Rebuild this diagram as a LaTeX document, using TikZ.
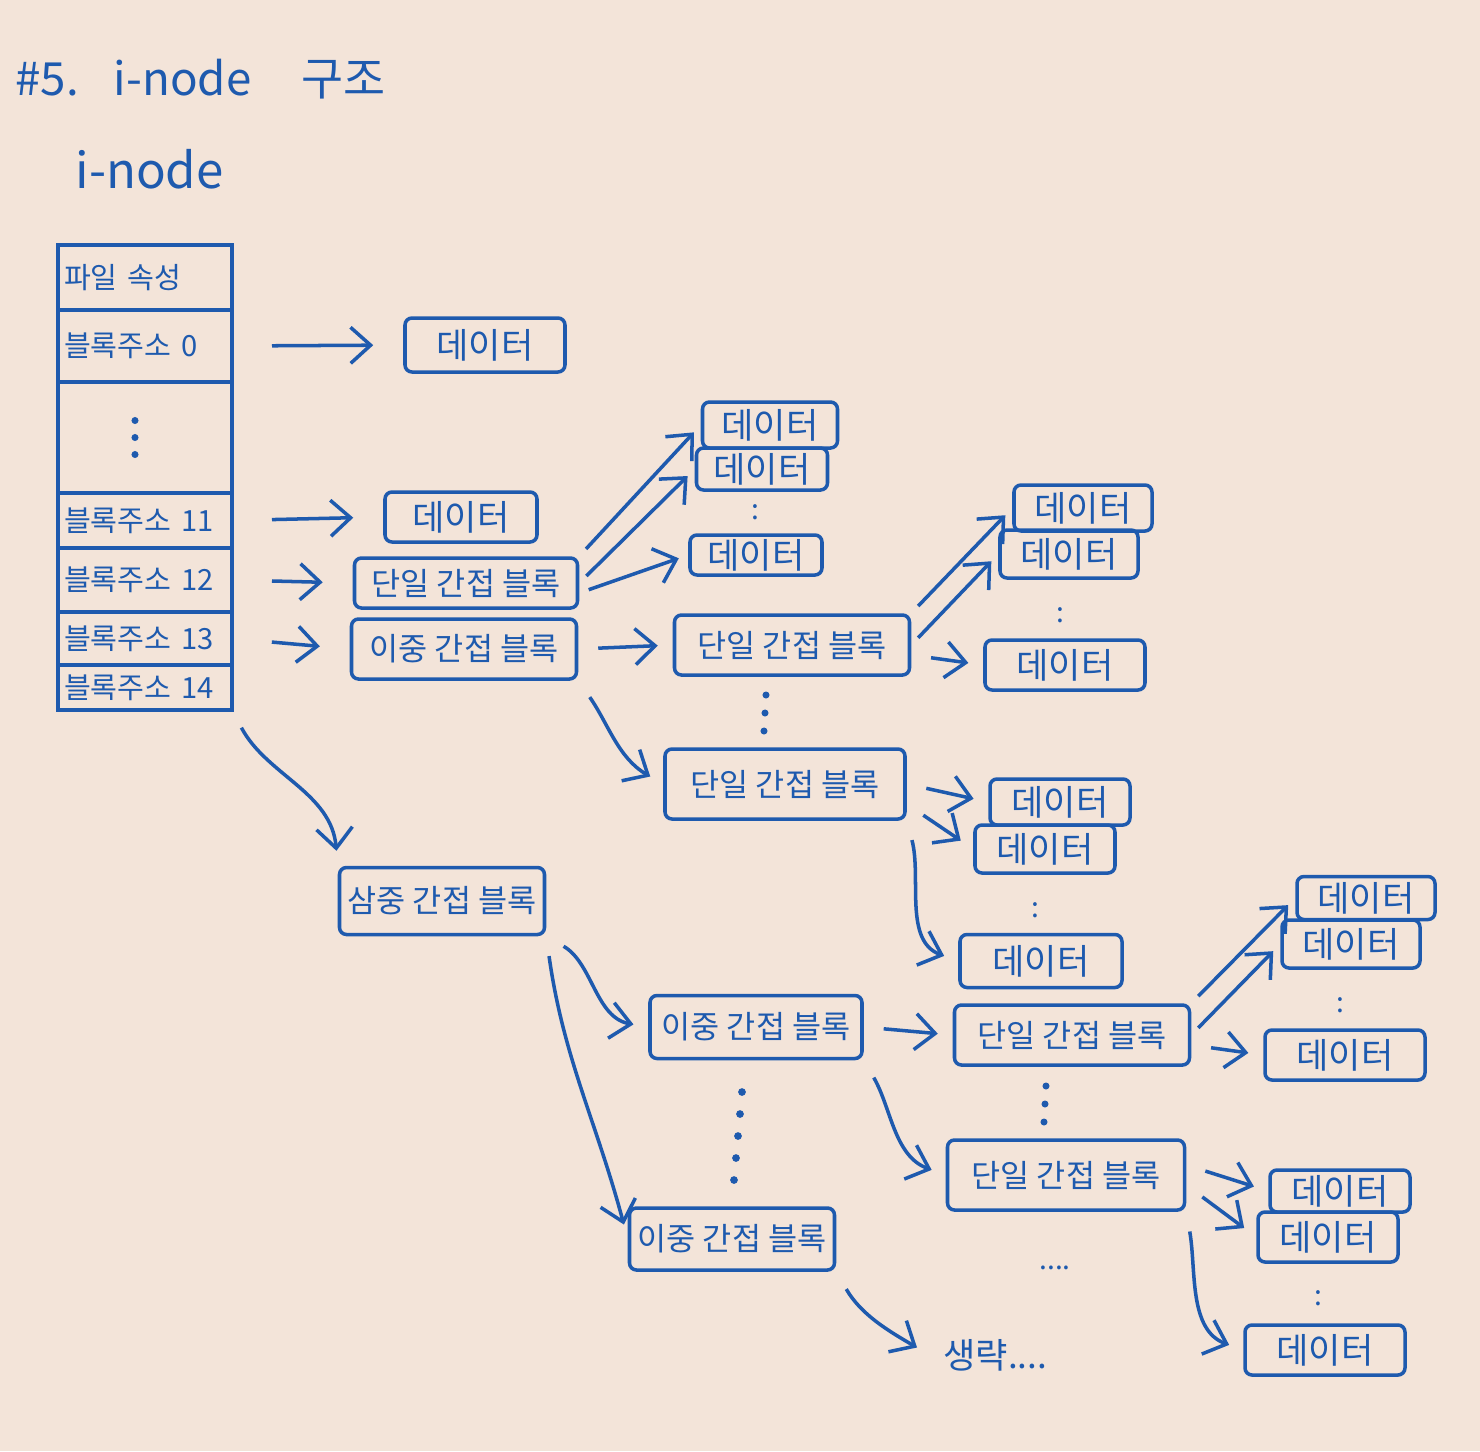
\documentclass[tikz,border=0pt]{standalone}
\usepackage{fontspec}
\setmainfont{Noto Sans CJK KR}
\usetikzlibrary{arrows.meta,positioning}
\definecolor{pen}{HTML}{1E5AAE}
\definecolor{paper}{HTML}{F3E4D9}

\begin{document}
\begin{tikzpicture}[
    color=pen, line width=1pt,
    cell/.style={draw, outer sep=0pt, minimum width=1.74cm, text width=1.62cm, inner xsep=0.06cm, inner ysep=0pt, align=left, font=\fontsize{8.3}{10}\selectfont},
    data/.style={draw, rounded corners=2pt, minimum width=1.38cm, minimum height=0.46cm, inner sep=1pt, font=\fontsize{10}{12}\selectfont},
    blk/.style={draw, rounded corners=2pt, minimum width=2.35cm, minimum height=0.6cm, inner sep=1pt, font=\fontsize{9}{11}\selectfont},
    arr/.style={-{Straight Barb[length=2mm,width=3.6mm]}, shorten <=2mm, shorten >=1.5mm},
    ptr/.style={arr, shorten <=4mm, shorten >=3mm},
    fan/.style={arr, shorten <=1mm, shorten >=1mm},
    dots/.style={inner sep=0pt, font=\fontsize{8}{8}\selectfont}
]
\fill[paper] (0,0) rectangle (14.8,-14.51);
\useasboundingbox (0,0) rectangle (14.8,-14.51);

% titles
\node[anchor=base west, font=\fontsize{13}{15}\selectfont] (title) at (0.02,-0.95) {\#5.\hspace{0.35cm}i-node\hspace{0.5cm}구조};
\node[anchor=base west, font=\fontsize{14}{16}\selectfont] (inode) at (0.62,-1.88) {i-node};

% i-node table
\node[cell, minimum height=0.65cm] (attr) at (1.45,-2.775) {파일 속성};
\node[cell, minimum height=0.72cm, below=0pt of attr] (b0) {블록주소 0};
\node[cell, minimum height=1.11cm, below=0pt of b0] (mid) {};
\node[cell, minimum height=0.55cm, below=0pt of mid] (b11) {블록주소 11};
\node[cell, minimum height=0.64cm, below=0pt of b11] (b12) {블록주소 12};
\node[cell, minimum height=0.53cm, below=0pt of b12] (b13) {블록주소 13};
\node[cell, minimum height=0.45cm, below=0pt of b13] (b14) {블록주소 14};
\foreach \i in {-1,0,1}
    \fill ([xshift=-0.1cm,yshift=\i*0.17cm]mid.center) circle (1pt);

% direct blocks
\node[data, minimum width=1.6cm, minimum height=0.54cm] (d0) at (4.85,-3.45) {데이터};
\node[data, minimum width=1.52cm, minimum height=0.5cm] (d11) at (4.61,-5.17) {데이터};

% single / double / triple
\node[blk, minimum width=2.23cm, minimum height=0.5cm] (s1) at (4.66,-5.83) {단일 간접 블록};
\node[blk, minimum width=2.25cm] (db1) at (4.64,-6.49) {이중 간접 블록};
\node[blk, minimum width=2.05cm, minimum height=0.67cm] (t) at (4.42,-9.01) {삼중 간접 블록};

% data of s1
\node[data, minimum width=1.35cm] (da1) at (7.70,-4.25) {데이터};
\node[data, minimum width=1.31cm, minimum height=0.42cm] (da2) at (7.62,-4.69) {데이터};
\node[dots] (da-dots) at (7.55,-5.12) {:};
\node[data, minimum width=1.32cm, minimum height=0.4cm] (da3) at (7.56,-5.55) {데이터};

% single blocks of db1
\node[blk] (s2) at (7.92,-6.45) {단일 간접 블록};
\foreach \i in {0,1,2}
    \fill (7.66-\i*0.01,-6.95-\i*0.18) circle (1pt);
\node[blk, minimum width=2.4cm, minimum height=0.7cm] (s3) at (7.85,-7.84) {단일 간접 블록};

\node[data] (ea1) at (10.83,-5.08) {데이터};
\node[data, minimum height=0.48cm] (ea2) at (10.69,-5.54) {데이터};
\node[dots] (ea-dots) at (10.6,-6.15) {:};
\node[data, minimum width=1.6cm, minimum height=0.5cm] (ea3) at (10.65,-6.65) {데이터};

\node[data, minimum width=1.4cm] (fa1) at (10.6,-8.02) {데이터};
\node[data, minimum width=1.4cm, minimum height=0.48cm] (fa2) at (10.45,-8.49) {데이터};
\node[dots] (fa-dots) at (10.35,-9.1) {:};
\node[data, minimum width=1.62cm, minimum height=0.53cm] (fa3) at (10.41,-9.61) {데이터};

% double blocks of t
\node[blk, minimum width=2.12cm, minimum height=0.63cm] (db2) at (7.56,-10.27) {이중 간접 블록};
\foreach \i in {0,...,4}
    \fill (7.42-\i*0.02,-10.92-\i*0.22) circle (1.1pt);
\node[blk, minimum width=2.05cm, minimum height=0.62cm] (db3) at (7.32,-12.39) {이중 간접 블록};

\node[blk] (s4) at (10.72,-10.35) {단일 간접 블록};
\foreach \i in {0,1,2}
    \fill (10.46-\i*0.01,-10.86-\i*0.18) circle (1pt);
\node[blk, minimum width=2.37cm, minimum height=0.7cm] (s5) at (10.66,-11.75) {단일 간접 블록};
\node[dots] (s5-dots) at (10.55,-12.68) {....};

\node[data, minimum height=0.43cm] (ga1) at (13.66,-8.98) {데이터};
\node[data, minimum height=0.48cm] (ga2) at (13.51,-9.44) {데이터};
\node[dots] (ga-dots) at (13.4,-10.05) {:};
\node[data, minimum width=1.6cm, minimum height=0.5cm] (ga3) at (13.45,-10.55) {데이터};

\node[data, minimum width=1.4cm, minimum height=0.42cm] (ha1) at (13.4,-11.91) {데이터};
\node[data, minimum width=1.4cm, minimum height=0.5cm] (ha2) at (13.28,-12.37) {데이터};
\node[dots] (ha-dots) at (13.18,-12.98) {:};
\node[data, minimum width=1.6cm, minimum height=0.5cm] (ha3) at (13.25,-13.5) {데이터};

\node[anchor=west, font=\fontsize{10}{12}\selectfont] (skip) at (9.3,-13.55) {생략....};

% pointers
\draw[ptr] (b0.east) -- (d0.west);
\draw[ptr] (b11.east) -- (d11.west);
\draw[ptr] (b12.east) -- (s1.west);
\draw[ptr] (b13.east) -- (db1.west);
\draw[arr] (b14.south east) to[out=-62,in=95] (t.north west);

\draw[fan] (s1.north east) -- (da1.west);
\draw[fan] (s1.east) -- (da2.west);
\draw[fan] ([yshift=-1mm]s1.east) -- (da3.west);

\draw[arr] (db1.east) -- (s2.west);
\draw[arr] (db1.south east) to[out=-55,in=150] (s3.west);

\draw[fan] (s2.north east) -- (ea1.west);
\draw[fan] (s2.east) -- (ea2.west);
\draw[arr] ([yshift=-1mm]s2.east) -- (ea3.west);

\draw[arr] (s3.east) -- (fa1.west);
\draw[arr] ([yshift=-2mm]s3.east) -- (fa2.west);
\draw[arr] (s3.south east) to[out=-75,in=160] (fa3.west);

\draw[arr] (t.south east) to[out=-30,in=170] (db2.west);
\draw[arr] (t.south east) to[out=-82,in=105] (db3.west);

\draw[arr] (db2.east) -- (s4.west);
\draw[arr] (db2.south east) to[out=-60,in=160] (s5.west);
\draw[arr] (db3.south east) to[out=-60,in=150] (skip.west);

\draw[fan] (s4.north east) -- (ga1.west);
\draw[fan] (s4.east) -- (ga2.west);
\draw[arr] ([yshift=-1mm]s4.east) -- (ga3.west);

\draw[arr] ([yshift=1mm]s5.east) -- (ha1.west);
\draw[arr] ([yshift=-1mm]s5.east) -- (ha2.west);
\draw[arr] (s5.south east) to[out=-80,in=160] (ha3.west);
\end{tikzpicture}
\end{document}
